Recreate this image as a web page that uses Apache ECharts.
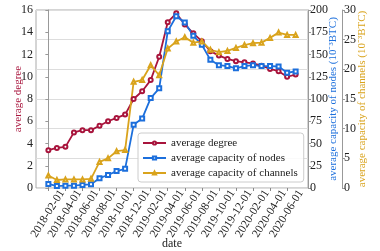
<!DOCTYPE html>
<html>
<head>
<meta charset="utf-8">
<script src="https://cdn.jsdelivr.net/npm/echarts@6/dist/echarts.min.js"></script>
<style>
  html, body { margin: 0; padding: 0; background: #fff; }
  #chart { width: 380px; height: 251px; }
</style>
</head>
<body>
<div id="chart"></div>
<script>
// monthly snapshots
var dates = ['2018-02-01', '2018-03-01', '2018-04-01', '2018-05-01', '2018-06-01', '2018-07-01',
  '2018-08-01', '2018-09-01', '2018-10-01', '2018-11-01', '2018-12-01', '2019-01-01',
  '2019-02-01', '2019-03-01', '2019-04-01', '2019-05-01', '2019-06-01', '2019-07-01',
  '2019-08-01', '2019-09-01', '2019-10-01', '2019-11-01', '2019-12-01', '2020-01-01',
  '2020-02-01', '2020-03-01', '2020-04-01', '2020-05-01', '2020-06-01', '2020-07-01'];
var degree = [3.4, 3.6, 3.7, 5.0, 5.2, 5.2, 5.6, 6.0, 6.3, 6.6, 8.0, 8.7, 9.7, 11.8, 14.9,
  15.7, 14.7, 13.9, 13.2, 12.3, 11.9, 11.6, 11.4, 11.3, 11.2, 11.0, 10.7, 10.5, 10.0, 10.2];
var nodeCap = [4.5, 2.2, 2.6, 2.6, 3.4, 4.1, 11, 14.6, 19, 21.5, 71, 78, 101, 112, 176,
  193, 186, 171, 161, 144, 138, 137, 134.5, 137, 138, 137, 137, 136.5, 129.5, 131];
var chanCap = [2.1, 1.35, 1.45, 1.45, 1.45, 1.55, 4.4, 5.0, 6.2, 6.4, 17.9, 18.2, 20.7, 19.0, 23.5,
  24.7, 25.4, 24.5, 24.7, 23.3, 22.9, 23.1, 23.6, 24.1, 24.4, 24.5, 25.3, 26.2, 25.8, 25.8];
var tickIdx = [0, 2, 4, 6, 8, 10, 12, 14, 16, 18, 20, 22, 24, 26, 28];

var RED = '#a8143c', BLUE = '#1c6fdc', GOLD = '#d9a31c';
var FONT = 'Liberation Serif';
var LABEL_SHIFT = 1.6; // rotated labels are centred on the tick, not ended on it

function pts(arr) {
  return arr.map(function (v, i) { return [i, v]; });
}

var chart = echarts.init(document.getElementById('chart'), null, {renderer: 'canvas'});

var option = {
  animation: false,
  textStyle: {fontFamily: FONT},
  grid: {left: 36, right: 72, top: 10, bottom: 63, show: true, borderColor: '#aaa', borderWidth: 1,
    outerBoundsMode: 'none'},
  legend: {
    orient: 'vertical',
    left: 138, top: 133,
    itemWidth: 23, itemHeight: 4, itemGap: 3,
    padding: [4, 6, 3, 4],
    backgroundColor: 'rgba(255,255,255,0.85)',
    borderColor: '#ccc', borderWidth: 1, borderRadius: 3,
    textStyle: {fontFamily: FONT, fontSize: 11, color: '#222', lineHeight: 12},
    data: ['average degree', 'average capacity of nodes', 'average capacity of channels']
  },
  xAxis: {
    type: 'value',
    min: -1.45, max: 30.45,
    name: 'date', nameLocation: 'middle', nameGap: 50, nameMoveOverlap: false,
    nameTextStyle: {fontFamily: FONT, fontSize: 12, color: '#222'},
    axisLine: {show: false},
    axisTick: {show: true, length: 3, customValues: tickIdx, lineStyle: {color: '#888'}},
    axisLabel: {
      rotate: 58, fontSize: 11.5, fontFamily: FONT, color: '#222', margin: 3,
      overflow: 'none', width: 200, hideOverlap: false,
      customValues: tickIdx.map(function (i) { return i + LABEL_SHIFT; }),
      formatter: function (v) { return dates[Math.round(v - LABEL_SHIFT)]; }
    },
    splitLine: {show: false}
  },
  yAxis: [{
    type: 'value', position: 'left', min: 0, max: 16, interval: 2,
    name: 'average degree', nameLocation: 'middle', nameGap: 12, nameRotate: 90, nameMoveOverlap: false,
    nameTextStyle: {fontFamily: FONT, fontSize: 11, color: RED},
    axisLine: {show: true, lineStyle: {color: '#999'}},
    axisTick: {show: true, length: 3, lineStyle: {color: '#999'}},
    axisLabel: {fontSize: 12, color: '#222', margin: 3},
    splitLine: {show: false}
  }, {
    type: 'value', position: 'right', min: 0, max: 200, interval: 25,
    name: 'average capacity of nodes (10⁻³BTC)', nameLocation: 'middle', nameGap: 20, nameRotate: 90,
    nameMoveOverlap: false,
    nameTextStyle: {fontFamily: FONT, fontSize: 11, color: BLUE},
    axisLine: {show: true, lineStyle: {color: '#999'}},
    axisTick: {show: true, length: 3, lineStyle: {color: '#999'}},
    axisLabel: {fontSize: 12, color: '#222', margin: 2},
    splitLine: {show: false}
  }, {
    type: 'value', position: 'right', offset: 34, min: 0, max: 30, interval: 5,
    name: 'average capacity of channels (10⁻³BTC)', nameLocation: 'middle', nameGap: 15, nameRotate: 90,
    nameMoveOverlap: false,
    nameTextStyle: {fontFamily: FONT, fontSize: 11, color: GOLD},
    axisLine: {show: true, lineStyle: {color: '#999'}},
    axisTick: {show: true, length: 3, lineStyle: {color: '#999'}},
    axisLabel: {fontSize: 12, color: '#222', margin: 2},
    splitLine: {show: true, lineStyle: {color: '#ddd', width: 1}}
  }],
  series: [{
    name: 'average degree', type: 'line', yAxisIndex: 0,
    data: pts(degree),
    symbol: 'emptyCircle', symbolSize: 4,
    lineStyle: {width: 1.8, color: RED}, itemStyle: {color: RED, borderWidth: 1}
  }, {
    name: 'average capacity of nodes', type: 'line', yAxisIndex: 1,
    data: pts(nodeCap),
    symbol: 'emptyRect', symbolSize: 4,
    lineStyle: {width: 1.8, color: BLUE}, itemStyle: {color: BLUE, borderWidth: 1}
  }, {
    name: 'average capacity of channels', type: 'line', yAxisIndex: 2,
    data: pts(chanCap),
    symbol: 'emptyTriangle', symbolSize: 4,
    lineStyle: {width: 1.8, color: GOLD}, itemStyle: {color: GOLD, borderWidth: 1}
  }]
};

chart.setOption(option);
</script>
</body>
</html>
